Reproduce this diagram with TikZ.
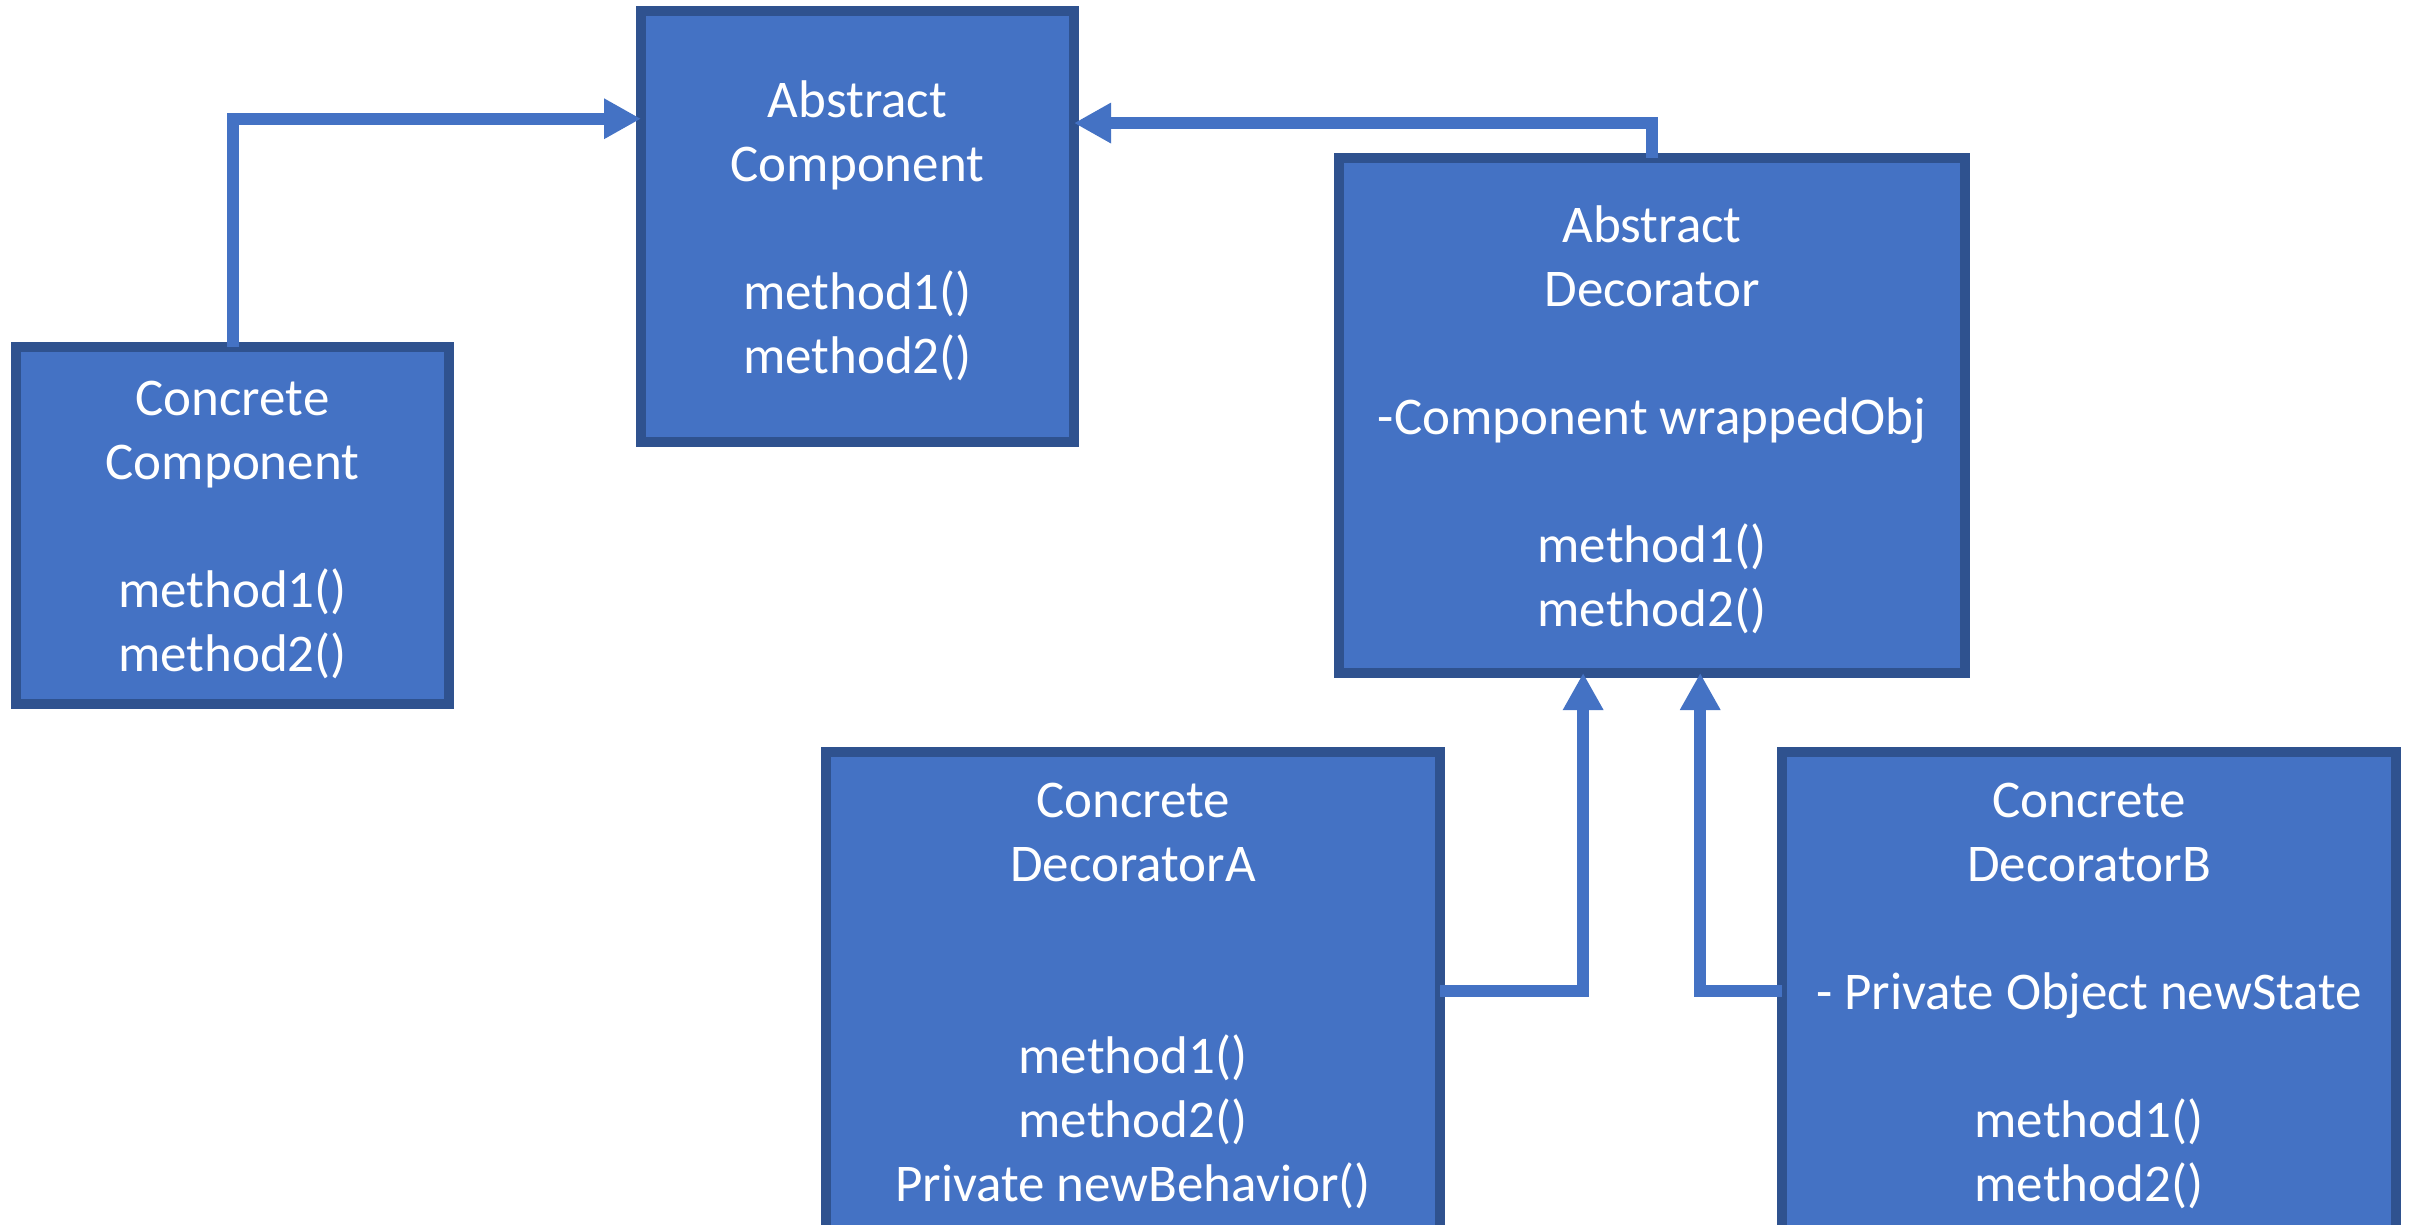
\documentclass[tikz,border=0pt]{standalone}
\usepackage{fontspec}
\setmainfont{Carlito}
\usetikzlibrary{arrows.meta,calc}
\definecolor{boxfill}{HTML}{4472C4}
\definecolor{boxline}{HTML}{2F528F}
\begin{document}
\begin{tikzpicture}[x=1pt,y=-1pt,
  umlbox/.style={draw=boxline, fill=boxfill, line width=10pt, outer sep=0pt, inner sep=0pt},
  umltext/.style={inner sep=0pt, text=white, align=center, font=\fontsize{53}{64}\selectfont},
  conn/.style={draw=boxfill, line width=12pt, line join=miter, -{Triangle[length=37pt,width=38pt]}}]
\useasboundingbox (0,0) rectangle (2417,1225);
\fill[white] (0,0) rectangle (2417,1225);
\clip (0,0) rectangle (2417,1225);

\node[umlbox, minimum width=433pt, minimum height=357pt] (cc) at (232.5,525.5) {};
\node[umlbox, minimum width=433pt, minimum height=431pt] (ac) at (857.5,226.5) {};
\node[umlbox, minimum width=626pt, minimum height=515pt] (ad) at (1652,415.5) {};
\node[umlbox, minimum width=614pt, minimum height=478pt] (da) at (1133,991) {};
\node[umlbox, minimum width=614pt, minimum height=478pt] (db) at (2089,991) {};

\node[umltext] (cct) at ($(cc.center)+(0,4.5)$)
  {Concrete\\Component\\~\\method1()\\method2()};
\node[umltext] (act) at ($(ac.center)+(0,4.5)$)
  {Abstract\\Component\\~\\method1()\\method2()};
\node[umltext] (adt) at ($(ad.center)+(0,4.5)$)
  {Abstract\\Decorator\\~\\-Component wrappedObj\\~\\method1()\\method2()};
\node[umltext] (dat) at ($(da.center)+(0,4.5)$)
  {Concrete\\DecoratorA\\~\\~\\method1()\\method2()\\Private newBehavior()};
\node[umltext] (dbt) at ($(db.center)+(0,4.5)$)
  {Concrete\\DecoratorB\\~\\- Private Object newState\\~\\method1()\\method2()};

\draw[conn] (cc.north) |- ($(ac.north west)!0.25!(ac.south west)$);
\draw[conn] (ad.north) |- ($(ac.north east)!0.26!(ac.south east)$);
\draw[conn] (da.east) -| ($(ad.south west)!0.39!(ad.south east)$);
\draw[conn] (db.west) -| ($(ad.south west)!0.577!(ad.south east)$);
\end{tikzpicture}
\end{document}
